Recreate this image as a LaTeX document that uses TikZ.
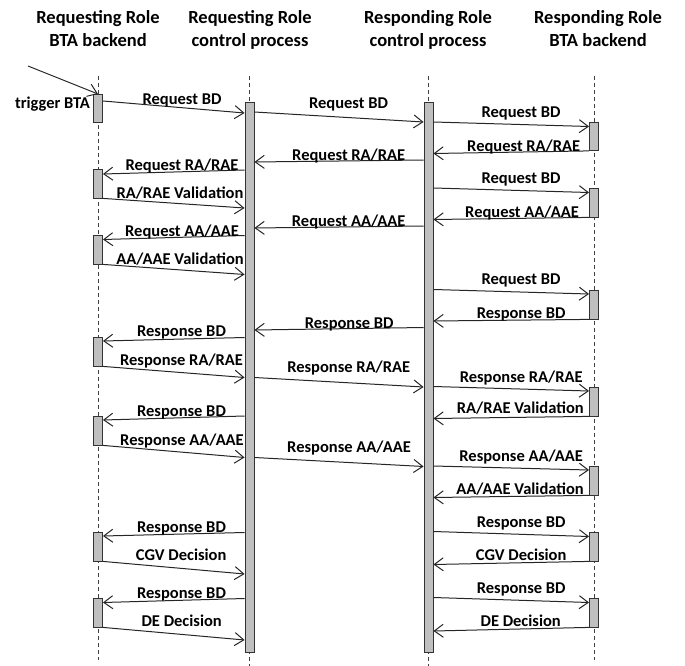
\documentclass[tikz,border=0pt]{standalone}
\usepackage{fontspec}
\setmainfont{Carlito}
\usetikzlibrary{arrows.meta}

\tikzset{
  life/.style={draw=black!75, line width=1pt, dash pattern=on 4pt off 3pt},
  actbar/.style={draw=black!80, fill=black!25, line width=0.9pt, minimum width=9pt, inner sep=0pt, anchor=north},
  msg/.style={draw=black!85, line width=1pt, -{Straight Barb[length=9pt,width=13pt,line width=1pt]}},
  lbl/.style={font=\fontsize{16.5}{19}\selectfont\bfseries, inner sep=0pt, anchor=base},
  head/.style={font=\fontsize{18.5}{23.5}\selectfont\bfseries, align=center, inner sep=0pt, anchor=north},
}

\begin{document}
\begin{tikzpicture}[x=1pt, y=-1pt]

  %% ════ 标题 ════
  \node[head] (hReqBe)  at (98,10)  {Requesting Role\\BTA backend};
  \node[head] (hReqCtl) at (250,10) {Requesting Role\\control process};
  \node[head] (hRspCtl) at (428,10) {Responding Role\\control process};
  \node[head] (hRspBe)  at (598,10) {Responding Role\\BTA backend};

  %% ════ 生命线（虚线）════
  \draw[life] (98,76) -- (98,660);
  \draw[life] (249.5,76) -- (249.5,666);
  \draw[life] (428.5,76) -- (428.5,666);
  \draw[life] (594,76) -- (594,660);

  %% ════ 激活条 ════
  \node[actbar, minimum height=550pt] (ctlA) at (249.5,102) {};
  \node[actbar, minimum height=550pt] (ctlB) at (428.5,102) {};

  \node[actbar, minimum height=28pt]   (a1) at (98,94)  {};
  \node[actbar, minimum height=28.5pt] (a2) at (98,169) {};
  \node[actbar, minimum height=28.5pt] (a3) at (98,235) {};
  \node[actbar, minimum height=28.5pt] (a4) at (98,337) {};
  \node[actbar, minimum height=28.5pt] (a5) at (98,416) {};
  \node[actbar, minimum height=28.5pt] (a6) at (98,532) {};
  \node[actbar, minimum height=28.5pt] (a7) at (98,598) {};

  \node[actbar, minimum height=28pt]   (b1) at (594,122) {};
  \node[actbar, minimum height=28.5pt] (b2) at (594,188) {};
  \node[actbar, minimum height=28.5pt] (b3) at (594,290) {};
  \node[actbar, minimum height=28.5pt] (b4) at (594,387) {};
  \node[actbar, minimum height=28.5pt] (b5) at (594,466) {};
  \node[actbar, minimum height=28.5pt] (b6) at (594,532) {};
  \node[actbar, minimum height=28.5pt] (b7) at (594,598) {};

  %% ════ 消息：左侧 backend <-> control ════
  \coordinate (trig) at (28,66);
  \draw[msg] (trig) -- (a1.north);
  \draw[msg] (a1.east |- 0,101) -- (ctlA.west |- 0,113);
  \draw[msg] (ctlA.west |- 0,170) -- (a2.east |- 0,174);
  \draw[msg] (a2.south east) -- (ctlA.west |- 0,208);
  \draw[msg] (ctlA.west |- 0,235.5) -- (a3.east |- 0,239.5);
  \draw[msg] (a3.south east) -- (ctlA.west |- 0,274.5);
  \draw[msg] (ctlA.west |- 0,337.5) -- (a4.east |- 0,341);
  \draw[msg] (a4.south east) -- (ctlA.west |- 0,377.5);
  \draw[msg] (ctlA.west |- 0,416) -- (a5.east |- 0,420);
  \draw[msg] (a5.south east) -- (ctlA.west |- 0,457.5);
  \draw[msg] (ctlA.west |- 0,532.5) -- (a6.east |- 0,536);
  \draw[msg] (a6.south east) -- (ctlA.west |- 0,574);
  \draw[msg] (ctlA.west |- 0,598.5) -- (a7.east |- 0,602.5);
  \draw[msg] (a7.south east) -- (ctlA.west |- 0,640);

  %% ════ 消息：中间 control <-> control ════
  \draw[msg] (ctlA.east |- 0,112) -- (ctlB.west |- 0,122);
  \draw[msg] (ctlB.west |- 0,160) -- (ctlA.east |- 0,162);
  \draw[msg] (ctlB.west |- 0,226) -- (ctlA.east |- 0,228);
  \draw[msg] (ctlB.west |- 0,327.5) -- (ctlA.east |- 0,330);
  \draw[msg] (ctlA.east |- 0,377.5) -- (ctlB.west |- 0,387);
  \draw[msg] (ctlA.east |- 0,457.5) -- (ctlB.west |- 0,466.5);

  %% ════ 消息：右侧 control <-> backend ════
  \draw[msg] (ctlB.east |- 0,122) -- (b1.west |- 0,126.5);
  \draw[msg] (b1.south west) -- (ctlB.east |- 0,153.5);
  \draw[msg] (ctlB.east |- 0,188) -- (b2.west |- 0,192.5);
  \draw[msg] (b2.south west) -- (ctlB.east |- 0,219.5);
  \draw[msg] (ctlB.east |- 0,289.5) -- (b3.west |- 0,294);
  \draw[msg] (b3.south west) -- (ctlB.east |- 0,321);
  \draw[msg] (ctlB.east |- 0,386.5) -- (b4.west |- 0,391);
  \draw[msg] (b4.south west) -- (ctlB.east |- 0,418.5);
  \draw[msg] (ctlB.east |- 0,466) -- (b5.west |- 0,470);
  \draw[msg] (b5.south west) -- (ctlB.east |- 0,497.5);
  \draw[msg] (ctlB.east |- 0,531.5) -- (b6.west |- 0,536.5);
  \draw[msg] (b6.south west) -- (ctlB.east |- 0,564.5);
  \draw[msg] (ctlB.east |- 0,597.5) -- (b7.west |- 0,602.5);
  \draw[msg] (b7.south west) -- (ctlB.east |- 0,631);

  %% ════ 标签 ════
  \node[lbl] (tTrig) at (52.5,108.5) {trigger BTA};

  \node[lbl] (l1)  at (182,104.5)   {Request BD};
  \node[lbl] (l2)  at (182,170.5)   {Request RA/RAE};
  \node[lbl] (l3)  at (180,198.8)   {RA/RAE Validation};
  \node[lbl] (l4)  at (182,236.5)   {Request AA/AAE};
  \node[lbl] (l5)  at (180,264.8)   {AA/AAE Validation};
  \node[lbl] (l6)  at (181.5,336.5) {Response BD};
  \node[lbl] (l7)  at (181.5,365.5) {Response RA/RAE};
  \node[lbl] (l8)  at (181.5,416.8) {Response BD};
  \node[lbl] (l9)  at (182,445.5)   {Response AA/AAE};
  \node[lbl] (l10) at (181.5,532.2) {Response BD};
  \node[lbl] (l11) at (181.2,560.5) {CGV Decision};
  \node[lbl] (l12) at (181.5,598.2) {Response BD};
  \node[lbl] (l13) at (181.7,626.5) {DE Decision};

  \node[lbl] (m1) at (348.5,108.8) {Request BD};
  \node[lbl] (m2) at (348.7,160.5) {Request RA/RAE};
  \node[lbl] (m3) at (348.7,226.5) {Request AA/AAE};
  \node[lbl] (m4) at (349.2,328.2) {Response BD};
  \node[lbl] (m5) at (348.7,372.2) {Response RA/RAE};
  \node[lbl] (m6) at (349,452.2)   {Response AA/AAE};

  \node[lbl] (r1)  at (521,117.8)   {Request BD};
  \node[lbl] (r2)  at (523.7,151.2) {Request RA/RAE};
  \node[lbl] (r3)  at (521,183.8)   {Request BD};
  \node[lbl] (r4)  at (522,217.2)   {Request AA/AAE};
  \node[lbl] (r5)  at (521,284.5)   {Request BD};
  \node[lbl] (r6)  at (521.2,318.2) {Response BD};
  \node[lbl] (r7)  at (521.2,382.2) {Response RA/RAE};
  \node[lbl] (r8)  at (520.3,413.8) {RA/RAE Validation};
  \node[lbl] (r9)  at (521.2,461.5) {Response AA/AAE};
  \node[lbl] (r10) at (520,494.8)   {AA/AAE Validation};
  \node[lbl] (r11) at (521.2,527.2) {Response BD};
  \node[lbl] (r12) at (521.2,560.5) {CGV Decision};
  \node[lbl] (r13) at (521.2,593.8) {Response BD};
  \node[lbl] (r14) at (520.7,626.5) {DE Decision};

  % 钉死画布
  \pgfresetboundingbox
  \path[use as bounding box] (0,0) rectangle (685,666);
\end{tikzpicture}
\end{document}
